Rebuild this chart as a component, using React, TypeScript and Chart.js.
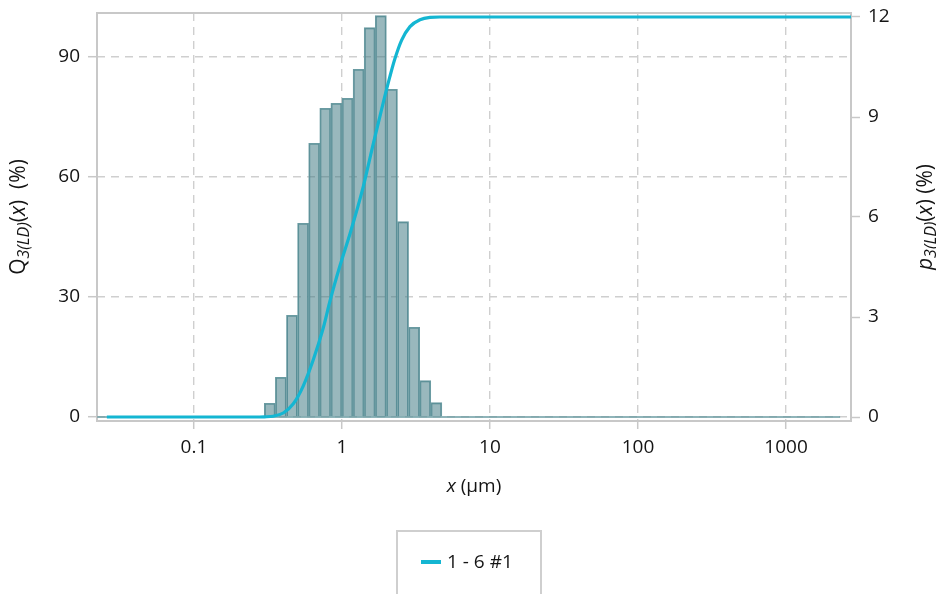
import React, { useEffect, useRef } from 'react';
import { Chart, registerables } from 'chart.js';

Chart.register(...registerables);

// Histogram bins (geometric centres, µm) and density values p3 (%)
const binCenters = [0.3255, 0.3868, 0.4597, 0.5464, 0.6494, 0.7718, 0.9173, 1.0902, 1.2957, 1.5399, 1.8302, 2.1752, 2.5852, 3.0726, 3.6517, 4.3401];
const p3Values = [0.41, 1.19, 3.05, 5.81, 8.21, 9.26, 9.41, 9.56, 10.43, 11.68, 12.04, 9.83, 5.86, 2.69, 1.09, 0.43];

// Cumulative curve Q3 (%)
const q3Sizes = [0.0258, 0.1, 0.25, 0.3, 0.343, 0.401, 0.469, 0.548, 0.64, 0.748, 0.83, 0.969, 1.133, 1.393, 1.627, 1.901, 2.111, 2.281, 2.531, 2.88, 3.364, 3.934, 4.59, 10, 100, 1000, 2748];
const q3Values = [0, 0, 0, 0.05, 0.2, 1.0, 3.3, 7.8, 14.3, 22.3, 29.0, 37.8, 45.8, 57.6, 68.3, 78.6, 85.2, 89.6, 94.2, 97.6, 99.3, 99.9, 100, 100, 100, 100, 100];

// Histogram zero baseline
const baselineSizes = [0.0222, 2320];
const baselineValues = [0, 0];

const xTicks = [0.1, 1, 10, 100, 1000];
const leftTicks = [0, 30, 60, 90];
const rightTicks = [0, 3, 6, 9, 12];
const seriesLabel = '1 - 6 #1';

const FONT = '"Open Sans", "Noto Sans", sans-serif';
const TICK_SIZE = 19;
const TITLE_SIZE = 21;
const SUB_SIZE = 16;
const CYAN = '#14b6d2';
const BAR_FILL = 'rgba(62,120,130,0.53)';
const BAR_EDGE = '#6a9ba2';
const GRID = '#cfcfcf';
const FRAME = '#c8c8c8';
const TEXT = '#141414';

type Part = { t: string; italic?: boolean; size?: number; dy?: number };

function drawRich(ctx: CanvasRenderingContext2D, parts: Part[], cx: number, cy: number, rot: number, align: 'center' | 'left' = 'center', baseSize = TITLE_SIZE) {
  ctx.save();
  ctx.translate(cx, cy);
  ctx.rotate(rot);
  ctx.textBaseline = 'middle';
  ctx.textAlign = 'left';
  ctx.fillStyle = TEXT;
  const fontOf = (p: Part) => `${p.italic ? 'italic ' : ''}${p.size || baseSize}px ${FONT}`;
  let total = 0;
  for (const p of parts) {
    ctx.font = fontOf(p);
    total += ctx.measureText(p.t).width;
  }
  let x = align === 'center' ? -total / 2 : 0;
  for (const p of parts) {
    ctx.font = fontOf(p);
    ctx.fillText(p.t, x, p.dy || 0);
    x += ctx.measureText(p.t).width;
  }
  ctx.restore();
}

const decorPlugin = {
  id: 'decor',
  beforeDatasetsDraw(chart: any) {
    const { ctx, chartArea: a } = chart;
    ctx.save();
    ctx.strokeStyle = FRAME;
    ctx.lineWidth = 2;
    ctx.strokeRect(a.left, a.top, a.right - a.left, a.bottom - a.top);
    ctx.restore();
  },
  afterDraw(chart: any) {
    const { ctx, chartArea: a } = chart;
    const midY = (a.top + a.bottom) / 2;
    drawRich(ctx, [
      { t: 'Q' },
      { t: '3(LD)', italic: true, size: SUB_SIZE, dy: 5 },
      { t: '(' },
      { t: 'x', italic: true },
      { t: ')  (%)' },
    ], 19, midY, -Math.PI / 2);
    drawRich(ctx, [
      { t: 'p', italic: true },
      { t: '3(LD)', italic: true, size: SUB_SIZE, dy: 5 },
      { t: '(' },
      { t: 'x', italic: true },
      { t: ') (%)' },
    ], 926, midY, -Math.PI / 2);
    drawRich(ctx, [
      { t: 'x', italic: true },
      { t: ' (µm)' },
    ], (a.left + a.right) / 2, 487, 0, 'center', TICK_SIZE);

    // legend box
    ctx.save();
    ctx.strokeStyle = '#cfcfcf';
    ctx.lineWidth = 2;
    ctx.strokeRect(397, 531, 144, 90);
    ctx.strokeStyle = CYAN;
    ctx.lineWidth = 4;
    ctx.beginPath();
    ctx.moveTo(421, 562);
    ctx.lineTo(441, 562);
    ctx.stroke();
    ctx.restore();
    drawRich(ctx, [{ t: seriesLabel }], 447, 563, 0, 'left', TICK_SIZE);
  },
};

export default function App() {
  const ref = useRef<HTMLCanvasElement | null>(null);

  useEffect(() => {
    document.body.style.overflow = 'hidden';
    const canvas = ref.current;
    if (!canvas) return;

    const tickFont = { family: FONT, size: TICK_SIZE };

    const chart = new Chart(canvas, {
      type: 'bar',
      data: {
        datasets: [
          {
            type: 'line',
            label: seriesLabel,
            data: q3Sizes.map((x, i) => ({ x, y: q3Values[i] })),
            borderColor: CYAN,
            backgroundColor: CYAN,
            borderWidth: 3.2,
            pointRadius: 0,
            cubicInterpolationMode: 'monotone',
            yAxisID: 'y',
            xAxisID: 'x',
            order: 0,
          } as any,
          {
            type: 'line',
            label: 'baseline',
            data: baselineSizes.map((x, i) => ({ x, y: baselineValues[i] })),
            borderColor: BAR_EDGE,
            borderWidth: 1.5,
            pointRadius: 0,
            yAxisID: 'y2',
            xAxisID: 'x',
            order: 1,
          } as any,
          {
            type: 'bar',
            label: 'p3',
            data: binCenters.map((x, i) => ({ x, y: p3Values[i] })),
            backgroundColor: BAR_FILL,
            borderColor: BAR_EDGE,
            borderWidth: 1.2,
            borderSkipped: 'start',
            barPercentage: 1,
            categoryPercentage: 1,
            grouped: false,
            yAxisID: 'y2',
            xAxisID: 'x',
            order: 2,
          } as any,
        ],
      },
      options: {
        animation: false,
        responsive: false,
        maintainAspectRatio: false,
        devicePixelRatio: 1,
        layout: { padding: { top: 13, left: 0, right: 0, bottom: 0 } },
        plugins: {
          legend: { display: false },
          tooltip: { enabled: false },
        },
        scales: {
          x: {
            type: 'logarithmic',
            position: 'bottom',
            offset: false,
            min: 0.02213,
            max: 2748,
            afterBuildTicks: (s: any) => { s.ticks = xTicks.map((v) => ({ value: v })); },
            afterFit: (s: any) => { s.height = 173; s.paddingLeft = 0; s.paddingRight = 0; },
            grid: { offset: false, color: GRID, lineWidth: 1.4, tickColor: FRAME, tickLength: 8, tickWidth: 1.5, drawTicks: true },
            border: { display: false, dash: [8, 6] },
            ticks: { callback: (v: any) => String(v), autoSkip: false, maxRotation: 0, minRotation: 0, padding: 7, color: TEXT, font: tickFont },
          },
          y: {
            type: 'linear',
            position: 'left',
            min: -1,
            max: 101,
            afterBuildTicks: (s: any) => { s.ticks = leftTicks.map((v) => ({ value: v })); },
            afterFit: (s: any) => { s.width = 97; s.paddingTop = 0; s.paddingBottom = 0; },
            grid: { color: GRID, lineWidth: 1.4, tickColor: FRAME, tickLength: 9, tickWidth: 1.5 },
            border: { display: false, dash: [8, 6] },
            ticks: { callback: (v: any) => String(v), padding: 8, color: TEXT, font: tickFont },
          },
          y2: {
            type: 'linear',
            position: 'right',
            min: -0.12,
            max: 12.12,
            afterBuildTicks: (s: any) => { s.ticks = rightTicks.map((v) => ({ value: v })); },
            afterFit: (s: any) => { s.width = 85; s.paddingTop = 0; s.paddingBottom = 0; },
            grid: { drawOnChartArea: false, tickColor: FRAME, tickLength: 9, tickWidth: 1.5 },
            border: { display: false },
            ticks: { callback: (v: any) => String(v), padding: 8, color: TEXT, font: tickFont },
          },
        },
      } as any,
      plugins: [decorPlugin],
    });

    return () => chart.destroy();
  }, []);

  return (
    <div style={{ position: 'fixed', left: 0, top: 0, width: 936, height: 594 }}>
      <canvas ref={ref} width={936} height={594} style={{ display: 'block', width: 936, height: 594 }} />
    </div>
  );
}
